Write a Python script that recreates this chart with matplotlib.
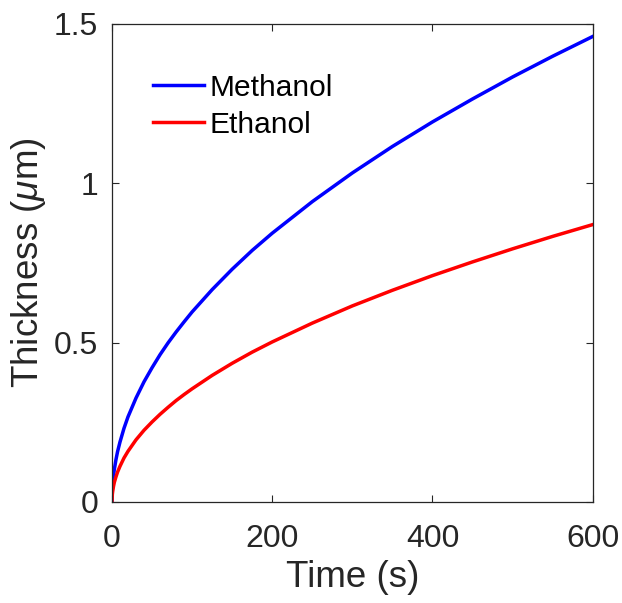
import numpy as np
import matplotlib.pyplot as plt

# film thickness vs time
time_s = [0, 0.5, 1, 2, 3, 5, 7, 10, 15, 20, 30, 40, 50, 60, 70, 80, 90, 100, 125, 150, 175,
          200, 250, 300, 350, 400, 450, 500, 550, 600]
methanol = [0, 0.042, 0.060, 0.084, 0.103, 0.133, 0.158, 0.188, 0.231, 0.267, 0.326, 0.377,
            0.421, 0.462, 0.499, 0.533, 0.565, 0.596, 0.666, 0.730, 0.789, 0.843,
            0.942, 1.032, 1.115, 1.192, 1.264, 1.333, 1.398, 1.460]
ethanol = [0, 0.025, 0.035, 0.050, 0.062, 0.079, 0.094, 0.112, 0.138, 0.159, 0.195, 0.225,
           0.251, 0.275, 0.297, 0.318, 0.337, 0.355, 0.397, 0.435, 0.470, 0.502,
           0.561, 0.615, 0.664, 0.710, 0.753, 0.794, 0.833, 0.870]

xticks = [0, 200, 400, 600]
yticks = [0, 0.5, 1, 1.5]
yticklabels = ['0', '0.5', '1', '1.5']

plt.rcParams['font.family'] = ['Liberation Sans', 'DejaVu Sans']
plt.rcParams['mathtext.fontset'] = 'custom'
plt.rcParams['mathtext.it'] = 'Liberation Sans:italic'
plt.rcParams['mathtext.rm'] = 'Liberation Sans'

grey = (0.15, 0.15, 0.15)

fig = plt.figure(figsize=(6.22, 6.03), dpi=100, facecolor='w')
ax = fig.add_axes([0.18, 0.1675, 0.773, 0.7932])

ax.plot(time_s, methanol, color=(0, 0, 1), lw=2.5, label='Methanol')
ax.plot(time_s, ethanol, color=(1, 0, 0), lw=2.5, label='Ethanol')

ax.set_xlim(0, 600)
ax.set_ylim(0, 1.5)
ax.set_xticks(xticks)
ax.set_yticks(yticks)
ax.set_yticklabels(yticklabels)

ax.tick_params(direction='in', top=True, right=True, length=5, width=0.8,
               labelsize=23, colors=grey)
ax.tick_params(axis='x', pad=16)
ax.tick_params(axis='y', pad=10)
for s in ax.spines.values():
    s.set_color(grey)
    s.set_linewidth(0.9)

ax.set_xlabel('Time (s)', fontsize=26.5, color=grey, labelpad=4)
ax.set_ylabel(r'Thickness ($\mu$m)', fontsize=26.5, color=grey, labelpad=4)

leg = ax.legend(loc='upper left', frameon=False, fontsize=21.5,
                handlelength=1.7, handletextpad=0.2, labelspacing=0.3,
                bbox_to_anchor=(0.06, 0.92), borderaxespad=0)

plt.savefig('out.png', dpi=100)
